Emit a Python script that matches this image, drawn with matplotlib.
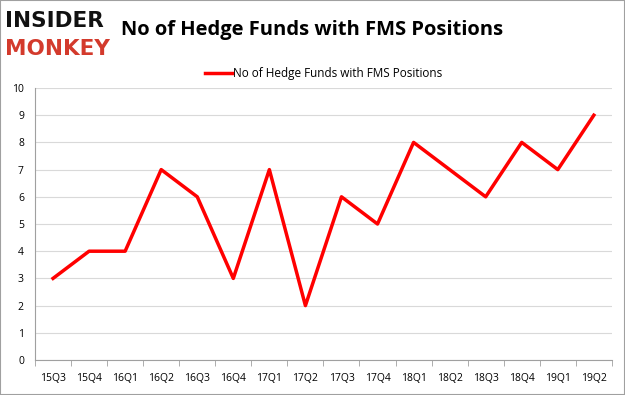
import matplotlib.pyplot as plt
from matplotlib.ticker import FixedLocator, NullFormatter

quarters = ["15Q3", "15Q4", "16Q1", "16Q2", "16Q3", "16Q4", "17Q1", "17Q2",
            "17Q3", "17Q4", "18Q1", "18Q2", "18Q3", "18Q4", "19Q1", "19Q2"]
funds = [3, 4, 4, 7, 6, 3, 7, 2, 6, 5, 8, 7, 6, 8, 7, 9]
series_name = "No of Hedge Funds with FMS Positions"

plt.rcParams["font.family"] = ["Open Sans", "DejaVu Sans"]

fig = plt.figure(figsize=(6.25, 3.95), dpi=100)
ax = fig.add_axes([0.056, 0.0886, 0.923, 0.6886])

x = list(range(len(quarters)))
ax.plot(x, funds, color="#ff0000", linewidth=2.5, label=series_name)

ax.set_xlim(-0.5, len(quarters) - 0.5)
ax.set_ylim(0, 10)
ax.set_yticks(range(0, 11))
ax.set_xticks(x)
ax.set_xticklabels(quarters, fontsize=7.5)
ax.tick_params(axis="x", length=0, pad=9)
ax.xaxis.set_minor_locator(FixedLocator([i - 0.5 for i in range(len(quarters) + 1)]))
ax.xaxis.set_minor_formatter(NullFormatter())
ax.tick_params(axis="x", which="minor", length=4, color="#a0a0a0")
ax.tick_params(axis="y", length=0, labelsize=7.5, pad=8)
ax.grid(axis="y", color="#d9d9d9", linewidth=0.8)
ax.set_axisbelow(True)
for side in ["top", "right"]:
    ax.spines[side].set_visible(False)
ax.spines["left"].set_color("#a0a0a0")
ax.spines["bottom"].set_color("#a0a0a0")

ax.legend(loc="center", bbox_to_anchor=(0.5, 1.052), frameon=False,
          fontsize=8.5, handlelength=2.3, handletextpad=0.1)

fig.text(0.5, 0.925, "No of Hedge Funds with FMS Positions", ha="center", va="center",
         fontsize=14.5, fontweight="bold")
fig.text(0.008, 0.948, "INSIDER", ha="left", va="center", fontsize=15.5,
         fontweight="heavy", color="#111111", family="DejaVu Sans")
fig.text(0.008, 0.877, "MONKEY", ha="left", va="center", fontsize=15.5,
         fontweight="heavy", color="#d33a2c", family="DejaVu Sans")

border = plt.Rectangle((0, 0), 1, 1, transform=fig.transFigure, fill=False,
                       edgecolor="#a0a0a0", linewidth=1.5)
fig.patches.append(border)

fig.savefig("out.png", dpi=100)
